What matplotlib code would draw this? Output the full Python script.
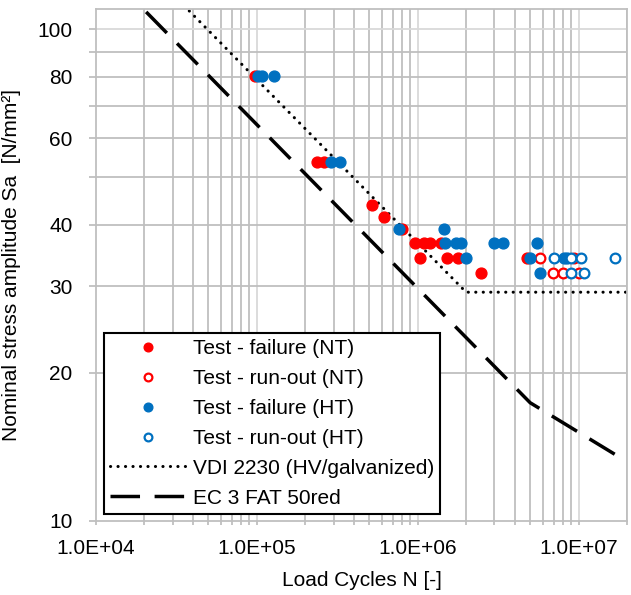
import matplotlib
matplotlib.use('Agg')
import matplotlib.pyplot as plt
from matplotlib.ticker import FixedLocator, NullFormatter

plt.rcParams['font.family'] = ['Liberation Sans', 'DejaVu Sans']

# test results, load cycles N and stress amplitude Sa
nt_fail_N = [9.8e4, 2.37e5, 2.62e5, 5.2e5, 6.15e5, 7.95e5, 9.6e5, 1.09e6, 1.2e6, 1.4e6,
             1.03e6, 1.53e6, 1.79e6, 4.75e6, 2.46e6]
nt_fail_S = [80.2, 53.8, 53.8, 44.0, 41.6, 39.3, 36.7, 36.7, 36.7, 36.7,
             34.3, 34.3, 34.3, 34.3, 32.0]

nt_runout_N = [5.78e6, 9.38e6, 6.95e6, 8.0e6, 1.01e7]
nt_runout_S = [34.3, 34.3, 32.0, 32.0, 32.0]

ht_fail_N = [1.02e5, 1.07e5, 1.28e5, 2.9e5, 3.3e5, 7.6e5, 1.45e6,
             1.47e6, 1.72e6, 1.85e6, 2.96e6, 3.41e6, 5.54e6,
             2.01e6, 5.0e6, 8.13e6, 8.5e6, 5.78e6]
ht_fail_S = [80.2, 80.2, 80.2, 53.8, 53.8, 39.3, 39.3,
             36.7, 36.7, 36.7, 36.7, 36.7, 36.7,
             34.3, 34.3, 34.3, 34.3, 32.0]

ht_runout_N = [7.05e6, 9.0e6, 1.04e7, 1.68e7, 9.0e6, 1.08e7]
ht_runout_S = [34.3, 34.3, 34.3, 34.3, 32.0, 32.0]

# design curves (knots on log-log axes)
vdi_N = [3.8e4, 2.0e6, 2.0e7]
vdi_S = [109.0, 29.2, 29.2]

ec3_N = [2.05e4, 5.0e6, 2.0e7]
ec3_S = [108.5, 17.4, 13.2]

y_labels = [10, 20, 30, 40, 60, 80, 100]

RED = '#FF0000'
BLUE = '#0070C0'
GRID_DARK = '#BFBFBF'
GRID_LIGHT = '#D9D9D9'
FS = 15

fig = plt.figure(figsize=(6.31, 5.95), dpi=100)
ax = fig.add_axes([96 / 631, 1 - 521 / 595, 531 / 631, 512 / 595])
ax.set_xscale('log')
ax.set_yscale('log')
ax.set_xlim(1e4, 2e7)
ax.set_ylim(10, 110)

# grid lines
x_minor = [k * 10 ** d for d in (4, 5, 6) for k in range(2, 10)] + [2e7]
x_major = [1e5, 1e6, 1e7]
for xv in x_minor:
    ax.axvline(xv, color=GRID_DARK, lw=1.3, zorder=0)
for xv in x_major:
    ax.axvline(xv, color=GRID_LIGHT, lw=1.3, zorder=0)
y_grid = [20, 30, 40, 50, 60, 70, 80, 90]
for yv in y_grid:
    ax.axhline(yv, color=GRID_DARK, lw=1.3, zorder=0)
ax.axhline(100, color=GRID_LIGHT, lw=1.3, zorder=0)

# ticks
ax.xaxis.set_major_locator(FixedLocator([1e4, 1e5, 1e6, 1e7]))
ax.xaxis.set_minor_locator(FixedLocator(x_minor))
ax.xaxis.set_minor_formatter(NullFormatter())
ax.set_xticklabels(['1.0E+04', '1.0E+05', '1.0E+06', '1.0E+07'])
ax.yaxis.set_major_locator(FixedLocator(y_labels))
ax.yaxis.set_minor_locator(FixedLocator([50, 70, 90]))
ax.yaxis.set_minor_formatter(NullFormatter())
ax.set_yticklabels([str(v) for v in y_labels])
ax.tick_params(which='both', direction='out', color=GRID_DARK, width=1.3,
               labelsize=FS, labelcolor='black')
ax.tick_params(axis='x', which='both', length=3, pad=10)
ax.tick_params(axis='y', which='both', length=5, pad=12)

for sp in ax.spines.values():
    sp.set_color(GRID_DARK)
    sp.set_linewidth(1.3)

# design curves
ax.plot(vdi_N, vdi_S, color='black', lw=2.2, linestyle=(0, (0.05, 2.4)),
        dash_capstyle='round', label='VDI 2230 (HV/galvanized)', zorder=2)
ax.plot(ec3_N, ec3_S, color='black', lw=2.5, linestyle=(0, (8.5, 4.2)),
        label='EC 3 FAT 50red', zorder=2)

# test data
ax.plot(nt_fail_N, nt_fail_S, 'o', color=RED, ms=7.8, mec=RED,
        label='Test - failure (NT)', zorder=3)
ax.plot(nt_runout_N, nt_runout_S, 'o', color=RED, ms=7.0, mfc='white', mec=RED,
        mew=1.6, label='Test - run-out (NT)', zorder=3)
ax.plot(ht_fail_N, ht_fail_S, 'o', color=BLUE, ms=7.8, mec=BLUE,
        label='Test - failure (HT)', zorder=3)
ax.plot(ht_runout_N, ht_runout_S, 'o', color=BLUE, ms=7.0, mfc='white', mec=BLUE,
        mew=1.6, label='Test - run-out (HT)', zorder=3)

handles, labels = ax.get_legend_handles_labels()
order = [2, 3, 4, 5, 0, 1]
leg = ax.legend([handles[i] for i in order], [labels[i] for i in order],
                loc='lower left', bbox_to_anchor=(0.015, 0.014), fontsize=FS,
                frameon=True, fancybox=False, edgecolor='black', framealpha=1,
                handlelength=3.6, handletextpad=0.35, labelspacing=0.52,
                borderpad=0.3, borderaxespad=0, markerscale=0.8)
leg.get_frame().set_linewidth(1.5)
leg.set_zorder(5)

ax.set_xlabel('Load Cycles N [-]', fontsize=FS, labelpad=9)
ax.set_ylabel('Nominal stress amplitude Sa  [N/mm²]', fontsize=FS, labelpad=12)

fig.savefig('out.png', dpi=100)
